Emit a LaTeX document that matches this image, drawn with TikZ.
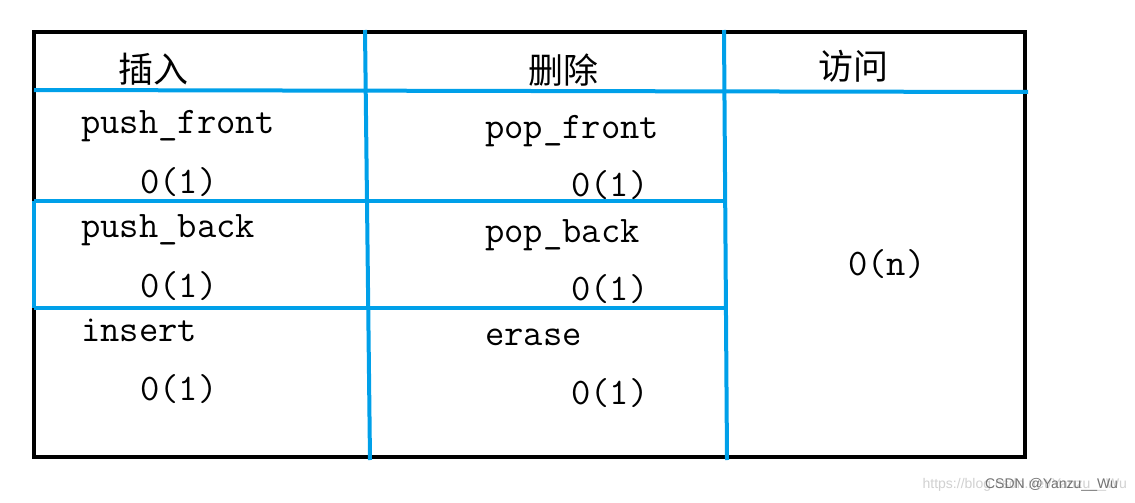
\documentclass[tikz,border=0pt]{standalone}
\usepackage{fontspec}
\newfontfamily\cjk{Noto Sans CJK SC}
\newfontfamily\wmfont{Liberation Sans}
\definecolor{pen}{RGB}{0,160,233}

\begin{document}
\begin{tikzpicture}[x=1pt, y=-1pt,
    op/.style={anchor=base west, inner sep=0pt, font=\fontsize{37.5}{40}\selectfont\ttfamily},
    head/.style={inner sep=0pt, font=\fontsize{35}{38}\selectfont\cjk},
    frame/.style={line width=4.5pt},
    grid/.style={pen, line width=4pt},
    wm/.style={anchor=base east, inner sep=0pt, font=\fontsize{14}{16}\selectfont\wmfont}]

    \useasboundingbox (0, 0) rectangle (1135, 503);
    \fill [white] (0, 0) rectangle (1135, 503);

    % table
    \draw [frame] (34, 32) rectangle (1025, 457);
    \draw [grid] (34, 90) -- (1028, 92);
    \draw [grid] (34, 201) -- (724, 201);
    \draw [grid] (34, 308) -- (725, 308);
    \draw [grid] (34, 201) -- (34, 308);
    \draw [grid] (365, 30) -- (370, 460);
    \draw [grid] (724, 30) -- (727, 460);

    \node [head] (ins) at (153, 69) {插入};
    \node [head] (del) at (563, 70) {删除};
    \node [head] (acc) at (853, 66) {访问};

    \node [op] (a) at (81, 133) {push\_front};
    \node [op] (b) at (140, 193) {0(1)};
    \node [op] (c) at (81, 237) {push\_back};
    \node [op] (d) at (140, 297) {0(1)};
    \node [op] (e) at (81, 341) {insert};
    \node [op] (f) at (140, 400) {0(1)};

    \node [op] (g) at (485, 138) {pop\_front};
    \node [op] (h) at (571, 196) {0(1)};
    \node [op] (i) at (485, 242) {pop\_back};
    \node [op] (j) at (571, 300) {0(1)};
    \node [op] (k) at (485, 345) {erase};
    \node [op] (l) at (571, 404) {0(1)};

    \node [op] (m) at (848, 275) {0(n)};

    \node [wm, text=black!18] (url) at (1127, 488) {https://blog.csdn.net/Yanzu\_\_Wu};
    \node [wm, text=black!55] (csdn) at (1118, 488) {CSDN @Yanzu\_\_Wu};

\end{tikzpicture}
\end{document}
